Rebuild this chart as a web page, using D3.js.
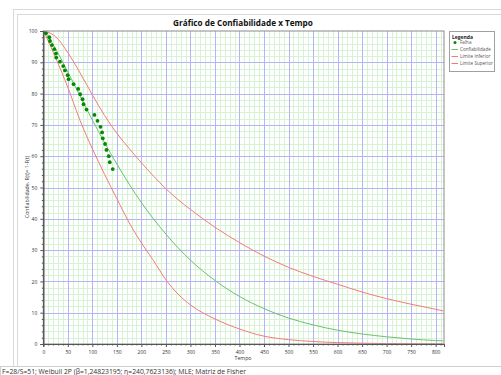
<!DOCTYPE html>
<html><head><meta charset="utf-8">
<script src="https://cdn.jsdelivr.net/npm/d3@7/dist/d3.min.js"></script>
<style>
html,body{margin:0;padding:0;background:#fff;}
svg{display:block;font-family:"Open Sans","Noto Sans",sans-serif;}
</style></head>
<body><svg id="c" width="501" height="375"></svg>
<script>
// ---- data ----
const failTimes = [5.5,12.2,13.6,17.7,22.4,25.8,26.4,33.9,40.6,44.1,49.6,51.6,61.8,71.1,75.2,80.0,82.1,88.2,104.4,110.5,116.6,119.8,121.3,125.9,128.8,133.5,135.5,141.6];
const failRel   = [99.3,98.0,96.8,95.5,94.2,92.8,91.5,90.2,88.8,87.4,85.9,84.6,83.0,81.5,79.8,78.2,76.6,74.9,73.2,71.3,69.4,67.6,65.7,63.9,62.0,60.0,58.1,55.9];
const curveTimes = [0,10,25,50,75,100,125,150,175,200,225,250,275,300,350,400,450,500,550,600,650,700,750,800,815];
const relCurve   = [100,98.1,94.3,86.9,79.2,71.6,64.3,57.5,51.1,45.2,39.9,35.1,30.7,26.8,20.3,15.2,11.3,8.3,6.1,4.4,3.2,2.3,1.6,1.1,1.0];
const lowerCurve = [100,96.8,91.5,82.0,71.4,62.4,54.2,46.4,38.8,32.3,26.6,20.5,15.9,12.5,8.0,4.8,2.5,1.4,0.8,0.45,0.25,0.13,0.07,0.04,0.03];
const upperCurve = [100,99.6,98.2,93.1,86.6,79.6,73.0,67.3,62.5,57.9,53.6,49.6,46.1,43.0,37.3,32.4,28.1,24.5,21.6,19.1,16.6,14.5,12.7,11.1,10.6];
const xTicks = [0,50,100,150,200,250,300,350,400,450,500,550,600,650,700,750,800];
const yTicks = [0,10,20,30,40,50,60,70,80,90,100];
const legendLabels = ["Falha","Confiabilidade","Limite Inferior","Limite Superior"];
const titleText = "Gráfico de Confiabilidade x Tempo";
const xLabel = "Tempo";
const yLabel = "Confiabilidade, R(t)= 1-F(t)";
const statusText = "F=28/S=51; Weibull 2P (β=1,24823195; η=240,7623136); MLE; Matriz de Fisher";

const svg = d3.select("#c");
const L=43.3, R=444, T=31, B=344;
const x = d3.scaleLinear().domain([0,817]).range([L,R]);
const y = d3.scaleLinear().domain([0,100]).range([B,T]);

// panel frames
svg.append("rect").attr("x",13.5).attr("y",9.5).attr("width",500).attr("height",370).attr("fill","#fff").attr("stroke","#d9d9d9");
svg.append("rect").attr("x",17.5).attr("y",14.5).attr("width",500).attr("height",352).attr("fill","#fff").attr("stroke","#d9d9d9");
// status bar
svg.append("rect").attr("x",0.5).attr("y",366.5).attr("width",520).attr("height",20).attr("fill","#fff").attr("stroke","#cfcfcf");
svg.append("text").attr("x",2).attr("y",373.5).attr("font-size",6.8).attr("fill","#333").text(statusText);

// title
svg.append("text").attr("x",243).attr("y",26).attr("text-anchor","middle").attr("font-size",8.2).attr("font-weight","bold").attr("fill","#111").text(titleText);

// grid
const g = svg.append("g");
g.append("rect").attr("x",L).attr("y",T).attr("width",R-L).attr("height",B-T).attr("fill","#fff");
const minorX = d3.range(10,817,10).filter(v=>v%50!==0);
const minorY = d3.range(2,100,2).filter(v=>v%10!==0);
g.selectAll(".mx").data(minorX).join("line").attr("x1",d=>Math.round(x(d))+0.5).attr("x2",d=>Math.round(x(d))+0.5).attr("y1",T).attr("y2",B).attr("stroke","#d6f3d6").attr("stroke-width",1);
g.selectAll(".my").data(minorY).join("line").attr("y1",d=>Math.round(y(d))+0.5).attr("y2",d=>Math.round(y(d))+0.5).attr("x1",L).attr("x2",R).attr("stroke","#d6f3d6").attr("stroke-width",1);
g.selectAll(".Mx").data(xTicks.filter(d=>d>0)).join("line").attr("x1",d=>Math.round(x(d))+0.5).attr("x2",d=>Math.round(x(d))+0.5).attr("y1",T).attr("y2",B).attr("stroke","#b4b4f6");
g.selectAll(".My").data(yTicks.filter(d=>d>0&&d<100)).join("line").attr("y1",d=>Math.round(y(d))+0.5).attr("y2",d=>Math.round(y(d))+0.5).attr("x1",L).attr("x2",R).attr("stroke","#b4b4f6");

// curves
const line = (vals)=>d3.line().x((d,i)=>x(curveTimes[i])).y(d=>y(d)).curve(d3.curveMonotoneX)(vals);
svg.append("clipPath").attr("id","pc").append("rect").attr("x",L).attr("y",T-1).attr("width",R-L).attr("height",B-T+1);
const cg = svg.append("g").attr("clip-path","url(#pc)");
cg.append("path").attr("d",line(lowerCurve)).attr("fill","none").attr("stroke","#f47a7a").attr("stroke-width",1);
cg.append("path").attr("d",line(upperCurve)).attr("fill","none").attr("stroke","#f47a7a").attr("stroke-width",1);
cg.append("path").attr("d",line(relCurve)).attr("fill","none").attr("stroke","#6cbf6c").attr("stroke-width",1);
cg.selectAll(".pt").data(failTimes).join("circle").attr("cx",d=>x(d)).attr("cy",(d,i)=>y(failRel[i])).attr("r",1.9).attr("fill","#008a00");

// plot frame
svg.append("rect").attr("x",L).attr("y",T).attr("width",R-L).attr("height",B-T).attr("fill","none").attr("stroke","#8a8a8a").attr("stroke-width",1);

// axes
const ax = svg.append("g").attr("transform",`translate(0,${B})`).call(d3.axisBottom(x).tickValues(xTicks).tickSize(3).tickPadding(3).tickFormat(d3.format("d")));
const axm = svg.append("g").attr("transform",`translate(0,${B})`).call(d3.axisBottom(x).tickValues(minorX).tickSize(1.5).tickFormat(""));
const ay = svg.append("g").attr("transform",`translate(${L},0)`).call(d3.axisLeft(y).tickValues(yTicks).tickSize(3).tickPadding(3).tickFormat(d3.format("d")));
const aym = svg.append("g").attr("transform",`translate(${L},0)`).call(d3.axisLeft(y).tickValues(minorY).tickSize(1.5).tickFormat(""));
[ax,axm,ay,aym].forEach(a=>{a.select(".domain").attr("stroke","#555");a.selectAll("line").attr("stroke","#555");a.selectAll("text").attr("font-size",5).attr("fill","#333").attr("font-family","Open Sans, Noto Sans, sans-serif");});

svg.append("text").attr("x",243).attr("y",360).attr("text-anchor","middle").attr("font-size",5.2).attr("fill","#333").text(xLabel);
svg.append("text").attr("transform","translate(29,187) rotate(-90)").attr("text-anchor","middle").attr("font-size",5.2).attr("fill","#333").text(yLabel);

// legend
const lg = svg.append("g");
lg.append("rect").attr("x",449.5).attr("y",31.5).attr("width",45).attr("height",40).attr("fill","#fff").attr("stroke","#a0a0a0");
lg.append("text").attr("x",452).attr("y",39).attr("font-size",5).attr("font-weight","bold").attr("fill","#222").text("Legenda");
const ly = d3.scalePoint().domain(legendLabels).range([44,65]);
legendLabels.forEach((lab,i)=>{
  const yy = ly(lab);
  if(i===0){ lg.append("circle").attr("cx",455).attr("cy",yy-1.5).attr("r",1.5).attr("fill","#008a00"); }
  else { lg.append("line").attr("x1",451.5).attr("x2",458).attr("y1",yy-1.5).attr("y2",yy-1.5).attr("stroke",i===1?"#6cbf6c":"#f47a7a").attr("stroke-width",1); }
  lg.append("text").attr("x",460).attr("y",yy).attr("font-size",4.6).attr("fill","#555").text(lab);
});
</script></body></html>
